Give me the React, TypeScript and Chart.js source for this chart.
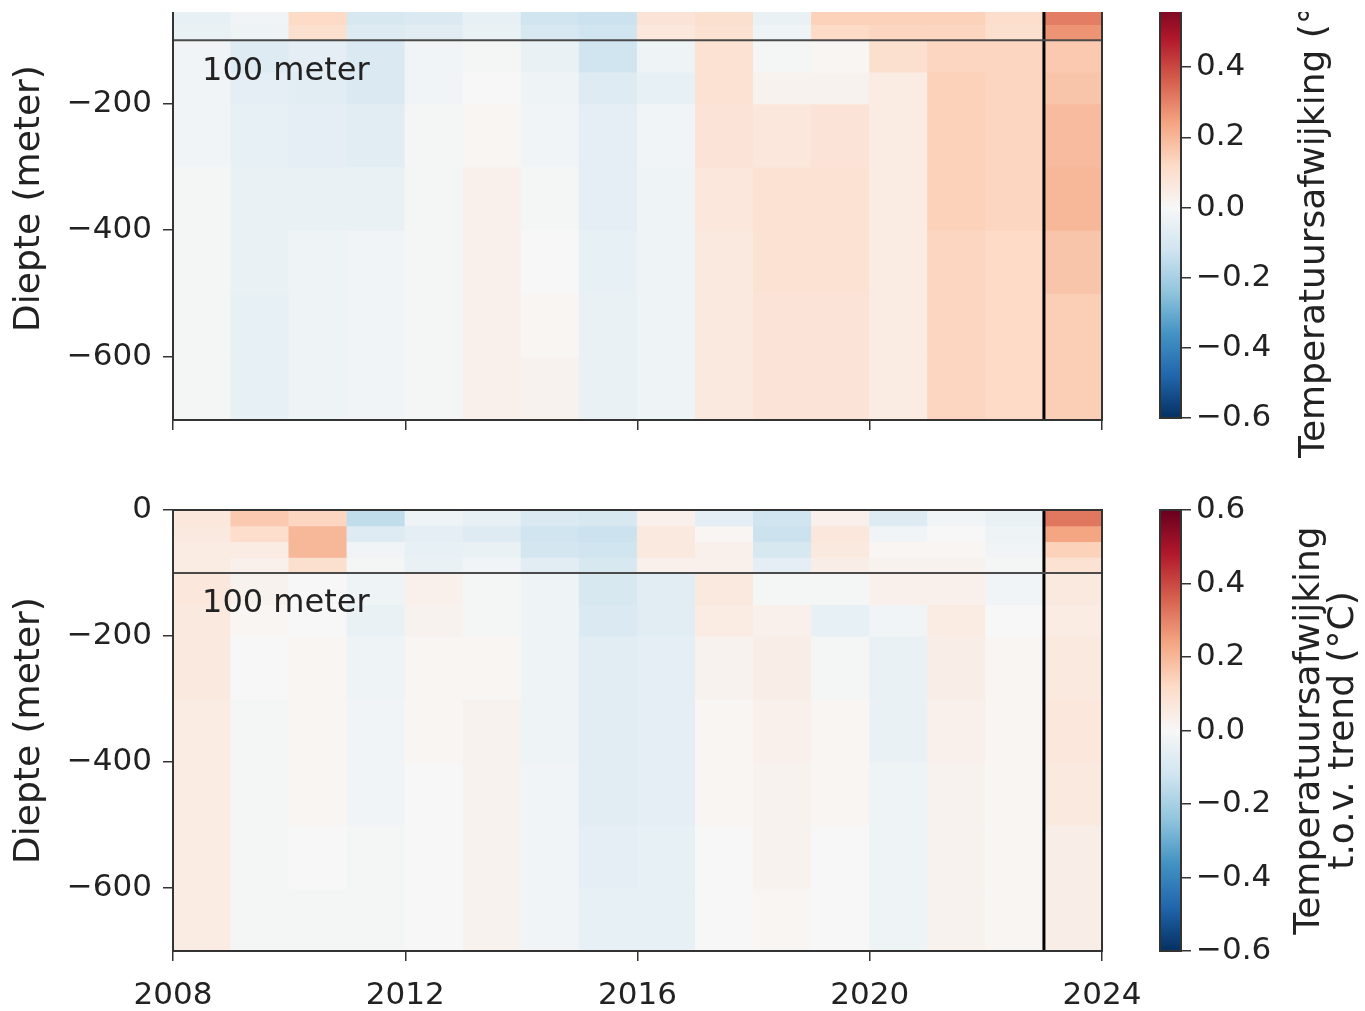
import React, { useEffect, useRef } from "react";
import { Chart, registerables } from "chart.js";

Chart.register(...registerables);

// ---------- data ----------
const YEARS = [2008, 2009, 2010, 2011, 2012, 2013, 2014, 2015, 2016, 2017, 2018, 2019, 2020, 2021, 2022, 2023];
const DEPTH_EDGES = [0, 25, 50, 75, 100, 150, 200, 300, 400, 500, 600, 700];
const X_TICKS = [2008, 2012, 2016, 2020, 2024];
const Y_TICKS = [0, -200, -400, -600];
const CBAR_TICKS = [-0.6, -0.4, -0.2, 0, 0.2, 0.4, 0.6];
const MARKER_DEPTH = 100;
const MARKER_YEAR = 2023;
const MARKER_LABEL = "100 meter";
const Y_TITLE = "Diepte (meter)";
const TOP_CBAR_TITLE = ["Temperatuursafwijking (°C)"];
const BOTTOM_CBAR_TITLE = ["Temperatuursafwijking", "t.o.v. trend (°C)"];

// RdBu_r colormap stops
const RDBU_R = ["#053061", "#2166ac", "#4393c3", "#92c5de", "#d1e5f0", "#f7f7f7", "#fddbc7", "#f4a582", "#d6604d", "#b2182b", "#67001f"];
const CB_MIN = -0.6;
const CB_MAX = 0.6;

// Top panel: temperature anomaly (°C), one row per depth bin, one value per year
const TOP_0_25 = [-0.05, -0.02, 0.12, -0.1, -0.09, -0.05, -0.12, -0.13, 0.08, 0.1, -0.04, 0.14, 0.14, 0.14, 0.11, 0.33];
const TOP_25_50 = [-0.05, -0.02, 0.12, -0.1, -0.09, -0.05, -0.12, -0.13, 0.08, 0.1, -0.04, 0.14, 0.14, 0.14, 0.11, 0.32];
const TOP_50_75 = [-0.05, -0.02, 0.12, -0.1, -0.09, -0.05, -0.12, -0.13, 0.08, 0.1, -0.04, 0.14, 0.14, 0.14, 0.11, 0.31];
const TOP_75_100 = [-0.04, -0.03, 0.1, -0.08, -0.07, -0.04, -0.1, -0.12, 0.07, 0.09, -0.03, 0.12, 0.13, 0.13, 0.1, 0.27];
const TOP_100_150 = [-0.02, -0.08, -0.06, -0.09, -0.02, -0.01, -0.04, -0.12, -0.03, 0.09, -0.01, 0.01, 0.1, 0.13, 0.13, 0.16];
const TOP_150_200 = [-0.02, -0.06, -0.07, -0.09, -0.02, 0.0, -0.03, -0.08, -0.05, 0.09, 0.02, 0.02, 0.05, 0.14, 0.13, 0.17];
const TOP_200_300 = [-0.02, -0.05, -0.06, -0.07, -0.01, 0.01, -0.02, -0.06, -0.02, 0.08, 0.07, 0.08, 0.05, 0.14, 0.13, 0.19];
const TOP_300_400 = [-0.01, -0.04, -0.04, -0.04, -0.01, 0.03, -0.01, -0.06, -0.03, 0.07, 0.09, 0.09, 0.05, 0.14, 0.13, 0.2];
const TOP_400_500 = [-0.01, -0.04, -0.03, -0.02, -0.01, 0.03, 0.0, -0.05, -0.03, 0.06, 0.09, 0.09, 0.05, 0.13, 0.12, 0.17];
const TOP_500_600 = [-0.01, -0.05, -0.03, -0.02, -0.01, 0.03, 0.01, -0.04, -0.03, 0.06, 0.08, 0.08, 0.05, 0.13, 0.12, 0.15];
const TOP_600_700 = [-0.01, -0.05, -0.03, -0.02, -0.01, 0.03, 0.02, -0.04, -0.03, 0.06, 0.08, 0.08, 0.05, 0.13, 0.12, 0.15];

// Bottom panel: anomaly relative to trend (°C)
const BOT_0_25 = [0.07, 0.16, 0.13, -0.15, -0.03, -0.05, -0.09, -0.1, 0.03, -0.06, -0.12, 0.03, -0.08, -0.02, -0.04, 0.32];
const BOT_25_50 = [0.06, 0.11, 0.2, -0.08, -0.06, -0.08, -0.12, -0.13, 0.06, 0.01, -0.13, 0.07, -0.02, 0.0, -0.03, 0.24];
const BOT_50_75 = [0.05, 0.05, 0.2, -0.02, -0.05, -0.04, -0.11, -0.12, 0.06, 0.03, -0.1, 0.06, 0.01, 0.01, -0.02, 0.14];
const BOT_75_100 = [0.05, 0.03, 0.1, -0.01, -0.04, -0.02, -0.07, -0.1, 0.03, 0.03, -0.06, 0.04, 0.02, 0.02, -0.01, 0.09];
const BOT_100_150 = [0.07, 0.02, 0.0, -0.03, 0.03, -0.01, -0.03, -0.1, -0.07, 0.06, -0.01, -0.01, 0.03, 0.03, -0.02, 0.06];
const BOT_150_200 = [0.06, 0.01, 0.0, -0.04, 0.02, -0.01, -0.03, -0.09, -0.07, 0.05, 0.03, -0.05, -0.02, 0.05, 0.0, 0.05];
const BOT_200_300 = [0.06, 0.0, 0.01, -0.03, 0.01, 0.01, -0.03, -0.07, -0.06, 0.02, 0.04, -0.01, -0.04, 0.04, 0.01, 0.06];
const BOT_300_400 = [0.05, -0.01, 0.01, -0.02, 0.01, 0.02, -0.03, -0.07, -0.06, 0.01, 0.03, 0.01, -0.04, 0.03, 0.01, 0.07];
const BOT_400_500 = [0.05, -0.01, 0.01, -0.02, 0.0, 0.02, -0.02, -0.07, -0.06, 0.01, 0.02, 0.01, -0.03, 0.02, 0.01, 0.06];
const BOT_500_600 = [0.05, -0.01, 0.0, -0.01, 0.0, 0.02, -0.02, -0.06, -0.05, 0.0, 0.02, 0.0, -0.03, 0.02, 0.01, 0.04];
const BOT_600_700 = [0.05, -0.01, -0.01, -0.01, 0.0, 0.02, -0.02, -0.05, -0.05, 0.0, 0.01, 0.0, -0.03, 0.02, 0.01, 0.04];

const TOP_ROWS = [TOP_0_25, TOP_25_50, TOP_50_75, TOP_75_100, TOP_100_150, TOP_150_200, TOP_200_300, TOP_300_400, TOP_400_500, TOP_500_600, TOP_600_700];
const BOT_ROWS = [BOT_0_25, BOT_25_50, BOT_50_75, BOT_75_100, BOT_100_150, BOT_150_200, BOT_200_300, BOT_300_400, BOT_400_500, BOT_500_600, BOT_600_700];

// ---------- styling ----------
const FONT = "DejaVu Sans";
const TEXT_COLOR = "#222";
const AXIS_COLOR = "#333";
const TICK_SIZE = 31;
const TITLE_SIZE = 36;
const LABEL_SIZE = 32;

function hexToRgb(h: string): number[] {
  const n = parseInt(h.slice(1), 16);
  return [(n >> 16) & 255, (n >> 8) & 255, n & 255];
}
const CMAP_RGB = RDBU_R.map(hexToRgb);

function colormap(v: number): string {
  const t = Math.min(1, Math.max(0, (v - CB_MIN) / (CB_MAX - CB_MIN))) * (CMAP_RGB.length - 1);
  const i = Math.min(CMAP_RGB.length - 2, Math.floor(t));
  const f = t - i;
  const a = CMAP_RGB[i];
  const b = CMAP_RGB[i + 1];
  const c = a.map((x, k) => Math.round(x + (b[k] - x) * f));
  return `rgb(${c[0]},${c[1]},${c[2]})`;
}

const fmtDepth = (v: number) => (v < 0 ? "\u2212" + Math.abs(v) : String(v));
const fmtCbar = (v: number) => (v < -1e-9 ? "\u2212" : "") + Math.abs(v).toFixed(1);

const framePlugin = {
  id: "frame",
  afterDatasetsDraw(chart: any) {
    const { ctx, chartArea: a } = chart;
    ctx.save();
    ctx.strokeStyle = AXIS_COLOR;
    ctx.lineWidth = 2;
    ctx.strokeRect(a.left, a.top, a.right - a.left, a.bottom - a.top);
    ctx.restore();
  },
};

const markerTextPlugin = {
  id: "markerText",
  afterDatasetsDraw(chart: any) {
    const { ctx, scales } = chart;
    const x = scales.xl.getPixelForValue(YEARS[0] + 0.5);
    const y = scales.y.getPixelForValue(-(MARKER_DEPTH + 49));
    ctx.save();
    ctx.font = `${LABEL_SIZE}px "${FONT}"`;
    ctx.fillStyle = TEXT_COLOR;
    ctx.textAlign = "left";
    ctx.textBaseline = "middle";
    ctx.fillText(MARKER_LABEL, x, y);
    ctx.restore();
  },
};

function cbarTitlePlugin(lines: string[], firstOffset: number, lineGap: number, yShift: number) {
  return {
    id: "cbarTitle",
    afterDraw(chart: any) {
      const { ctx, chartArea: a } = chart;
      const cy = (a.top + a.bottom) / 2 + yShift;
      ctx.save();
      ctx.font = `${TITLE_SIZE}px "${FONT}"`;
      ctx.fillStyle = TEXT_COLOR;
      ctx.textAlign = "center";
      ctx.textBaseline = "middle";
      lines.forEach((line, i) => {
        ctx.save();
        ctx.translate(a.right + firstOffset + i * lineGap, cy);
        ctx.rotate(-Math.PI / 2);
        ctx.fillText(line, 0, 0);
        ctx.restore();
      });
      ctx.restore();
    },
  };
}

const axisGrid = {
  drawOnChartArea: false,
  drawTicks: true,
  offset: false,
  tickLength: 10,
  color: AXIS_COLOR,
  lineWidth: 1.5,
};

function heatConfig(rows: number[][], showXLabels: boolean, xAxisHeight: number, padding: any): any {
  const maxDepth = DEPTH_EDGES[DEPTH_EDGES.length - 1];
  const datasets: any[] = rows.map((vals, i) => ({
    type: "bar",
    data: YEARS.map(() => [-DEPTH_EDGES[i], -DEPTH_EDGES[i + 1]]),
    backgroundColor: vals.map(colormap),
    borderWidth: 0,
    inflateAmount: 0.6,
    barPercentage: 1,
    categoryPercentage: 1,
    grouped: false,
    xAxisID: "x",
    yAxisID: "y",
    order: 2,
  }));
  datasets.push({
    type: "line",
    data: [
      { x: X_TICKS[0], y: -MARKER_DEPTH },
      { x: X_TICKS[X_TICKS.length - 1], y: -MARKER_DEPTH },
    ],
    xAxisID: "xl",
    yAxisID: "y",
    borderColor: "#4a4a4a",
    borderWidth: 2,
    pointRadius: 0,
    order: 0,
  });
  datasets.push({
    type: "line",
    data: [
      { x: MARKER_YEAR, y: 0 },
      { x: MARKER_YEAR, y: -maxDepth },
    ],
    xAxisID: "xl",
    yAxisID: "y",
    borderColor: "#000",
    borderWidth: 3,
    pointRadius: 0,
    order: 0,
  });
  return {
    type: "bar",
    data: { labels: YEARS.map(String), datasets },
    options: {
      animation: false,
      responsive: false,
      events: [],
      layout: { padding },
      plugins: { legend: { display: false }, tooltip: { enabled: false } },
      scales: {
        x: { type: "category", display: false, offset: true },
        xl: {
          type: "linear",
          position: "bottom",
          offset: false,
          min: X_TICKS[0],
          max: X_TICKS[X_TICKS.length - 1],
          afterBuildTicks: (s: any) => {
            s.ticks = X_TICKS.map((v) => ({ value: v }));
          },
          afterFit: (s: any) => {
            s.height = xAxisHeight;
          },
          grid: axisGrid,
          border: { display: true, color: AXIS_COLOR, width: 2 },
          ticks: {
            display: showXLabels,
            autoSkip: false,
            maxRotation: 0,
            padding: 16,
            color: TEXT_COLOR,
            font: { family: FONT, size: TICK_SIZE },
            callback: (v: any) => String(v),
          },
        },
        y: {
          type: "linear",
          position: "left",
          offset: false,
          min: -maxDepth,
          max: 0,
          afterBuildTicks: (s: any) => {
            s.ticks = Y_TICKS.map((v) => ({ value: v }));
          },
          afterFit: (s: any) => {
            s.width = 173;
          },
          grid: axisGrid,
          border: { display: true, color: AXIS_COLOR, width: 2 },
          ticks: {
            padding: 11,
            color: TEXT_COLOR,
            font: { family: FONT, size: TICK_SIZE },
            callback: (v: any) => fmtDepth(v),
          },
          title: {
            display: true,
            text: Y_TITLE,
            color: TEXT_COLOR,
            font: { family: FONT, size: TITLE_SIZE },
            padding: { top: 8, bottom: 0 },
          },
        },
      },
    },
    plugins: [framePlugin, markerTextPlugin],
  };
}

function cbarConfig(lines: string[], padding: any, yShift: number): any {
  return {
    type: "bar",
    data: {
      labels: [""],
      datasets: [
        {
          data: [[CB_MIN, CB_MAX]],
          backgroundColor: (c: any) => {
            const a = c.chart.chartArea;
            if (!a) return RDBU_R[5];
            const g = c.chart.ctx.createLinearGradient(0, a.bottom, 0, a.top);
            RDBU_R.forEach((col, i) => g.addColorStop(i / (RDBU_R.length - 1), col));
            return g;
          },
          borderWidth: 0,
          barPercentage: 1,
          categoryPercentage: 1,
        },
      ],
    },
    options: {
      animation: false,
      responsive: false,
      events: [],
      layout: { padding },
      plugins: { legend: { display: false }, tooltip: { enabled: false } },
      scales: {
        x: { display: false, offset: true },
        y: {
          position: "right",
          min: CB_MIN,
          max: CB_MAX,
          afterBuildTicks: (s: any) => {
            s.ticks = CBAR_TICKS.map((v) => ({ value: v }));
          },
          afterFit: (s: any) => {
            s.width = 184;
          },
          grid: axisGrid,
          border: { display: true, color: AXIS_COLOR, width: 2 },
          ticks: {
            padding: 5,
            color: TEXT_COLOR,
            font: { family: FONT, size: TICK_SIZE },
            callback: (v: any) => fmtCbar(v),
          },
        },
      },
    },
    plugins: [framePlugin, cbarTitlePlugin(lines, lines.length > 1 ? 129 : 134, 34, yShift)],
  };
}

function ChartBox(props: { left: number; top: number; width: number; height: number; make: () => any }) {
  const ref = useRef<HTMLCanvasElement | null>(null);
  useEffect(() => {
    if (!ref.current) return;
    const chart = new Chart(ref.current, props.make());
    return () => chart.destroy();
  }, []);
  return (
    <canvas
      ref={ref}
      width={props.width}
      height={props.height}
      style={{ position: "absolute", left: props.left, top: props.top, width: props.width, height: props.height }}
    />
  );
}

export default function App() {
  return (
    <div style={{ position: "absolute", left: 0, top: 0, width: 1365, height: 1011, overflow: "hidden", background: "#fff" }}>
      <div style={{ position: "absolute", left: 0, top: 12, width: 1365, height: 470, overflow: "hidden" }}>
        <ChartBox
          left={0}
          top={-65}
          width={1160}
          height={503}
          make={() => heatConfig(TOP_ROWS, false, 30, { left: 0, top: 30, right: 58, bottom: 0 })}
        />
        <ChartBox
          left={1150}
          top={-39}
          width={215}
          height={512}
          make={() => cbarConfig(TOP_CBAR_TITLE, { left: 10, top: 24, right: 0, bottom: 67 }, 5)}
        />
      </div>
      <ChartBox
        left={0}
        top={480}
        width={1160}
        height={531}
        make={() => heatConfig(BOT_ROWS, true, 60, { left: 0, top: 30, right: 58, bottom: 0 })}
      />
      <ChartBox
        left={1150}
        top={486}
        width={215}
        height={525}
        make={() => cbarConfig(BOTTOM_CBAR_TITLE, { left: 10, top: 24, right: 0, bottom: 60 }, 0)}
      />
    </div>
  );
}
